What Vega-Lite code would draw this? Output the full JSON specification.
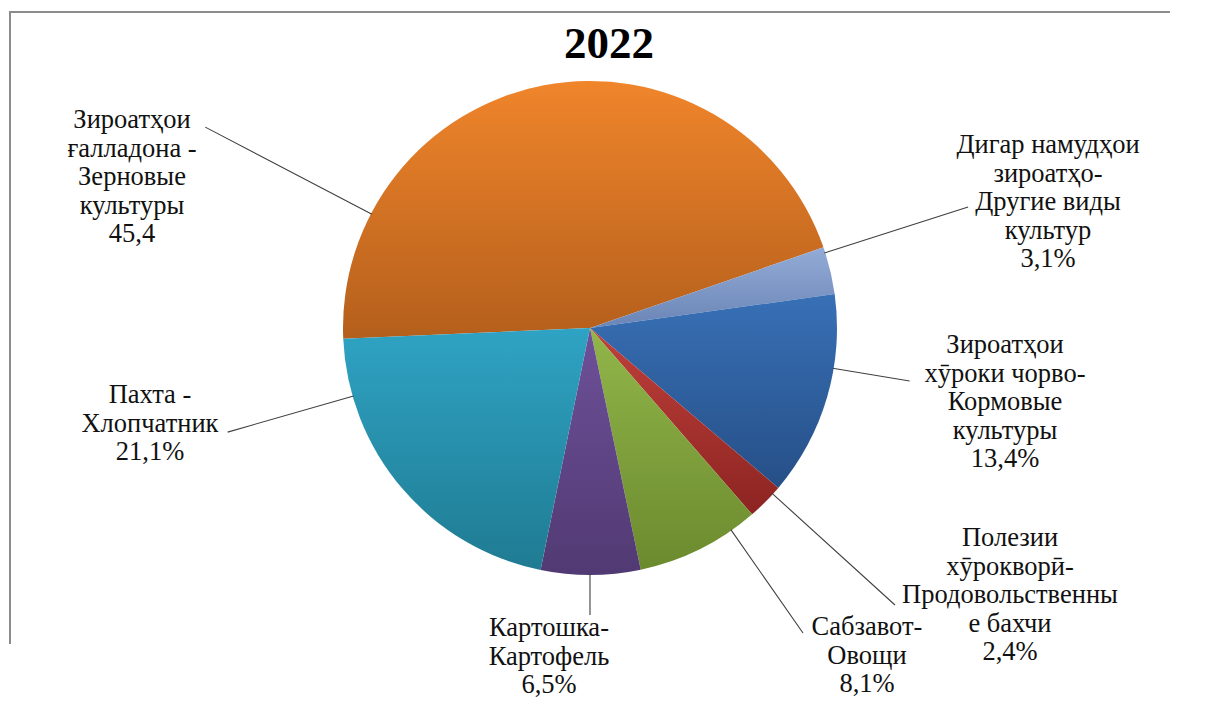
{
  "$schema": "https://vega.github.io/schema/vega-lite/v6.json",
  "width": 1160,
  "height": 632,
  "autosize": {"type": "none"},
  "padding": {"left": 10, "top": 12, "right": 38, "bottom": 58},
  "background": "white",
  "view": {"stroke": "#8c8c8c", "strokeWidth": 2, "strokeDash": [1160, 1792, 632]},
  "config": {
    "view": {"stroke": "#8c8c8c", "strokeWidth": 2, "strokeDash": [1160, 1792, 632]},
    "style": {"view": {"stroke": "#8c8c8c", "strokeWidth": 2, "strokeDash": [1160, 1792, 632]}}
  },
  "data": {"values": [
    {"idx": 1, "name": "Зерновые культуры", "value": 45.4, "label": "Зироатҳои\nғалладона -\nЗерновые\nкультуры\n45,4"},
    {"idx": 2, "name": "Другие виды культур", "value": 3.1, "label": "Дигар намудҳои\nзироатҳо-\nДругие виды\nкультур\n3,1%"},
    {"idx": 3, "name": "Кормовые культуры", "value": 13.4, "label": "Зироатҳои\nхӯроки чорво-\nКормовые\nкультуры\n13,4%"},
    {"idx": 4, "name": "Продовольственные бахчи", "value": 2.4, "label": "Полезии\nхӯрокворӣ-\nПродовольственны\nе бахчи\n2,4%"},
    {"idx": 5, "name": "Овощи", "value": 8.1, "label": "Сабзавот-\nОвощи\n8,1%"},
    {"idx": 6, "name": "Картофель", "value": 6.5, "label": "Картошка-\nКартофель\n6,5%"},
    {"idx": 7, "name": "Хлопчатник", "value": 21.1, "label": "Пахта -\nХлопчатник\n21,1%"}
  ]},
  "transform": [{"stack": "value", "groupby": [], "sort": [{"field": "idx", "order": "ascending"}], "as": ["v0", "v1"]}],
  "layer": [
    {
      "transform": [{"filter": "datum.idx === 1"}],
      "encoding": {"theta": {"field": "v0", "type": "quantitative", "stack": null, "scale": {"domain": [0, 100], "range": [4.66879, 10.95198]}}},
      "layer": [
        {"mark": {"type": "arc", "outerRadius": 247, "fill": {"gradient": "linear", "x1": 0, "y1": 0, "x2": 0, "y2": 1, "stops": [{"offset": 0, "color": "#F0852B"}, {"offset": 1, "color": "#B45F1C"}]}}, "encoding": {"theta2": {"field": "v1"}}},
        {"mark": {"type": "arc", "innerRadius": 246, "outerRadius": 434, "padAngle": 3.14, "thetaOffset": -0.9015, "theta2Offset": -0.9015, "fillOpacity": 0, "stroke": "#404040", "strokeWidth": 1.1}, "encoding": {"theta2": {"field": "v1"}}},
        {"mark": {"type": "text", "radius": 503.0, "thetaOffset": 0.4698, "font": "Liberation Serif", "fontSize": 26.5, "lineHeight": 28.5, "lineBreak": "\n", "align": "center", "baseline": "middle", "fill": "#111111"}, "encoding": {"text": {"field": "label", "type": "nominal"}}}
      ]
    },
    {
      "transform": [{"filter": "datum.idx === 2"}],
      "encoding": {"theta": {"field": "v0", "type": "quantitative", "stack": null, "scale": {"domain": [0, 100], "range": [4.66879, 10.95198]}}},
      "layer": [
        {"mark": {"type": "arc", "outerRadius": 247, "fill": {"gradient": "linear", "x1": 0, "y1": 0, "x2": 0, "y2": 1, "stops": [{"offset": 0, "color": "#93ABD6"}, {"offset": 1, "color": "#6A85B6"}]}}, "encoding": {"theta2": {"field": "v1"}}},
        {"mark": {"type": "arc", "innerRadius": 246, "outerRadius": 397, "padAngle": 3.14, "thetaOffset": -0.0745, "theta2Offset": -0.0745, "fillOpacity": 0, "stroke": "#404040", "strokeWidth": 1.1}, "encoding": {"theta2": {"field": "v1"}}},
        {"mark": {"type": "text", "radius": 493.2, "thetaOffset": -0.0475, "font": "Liberation Serif", "fontSize": 26.5, "lineHeight": 28.5, "lineBreak": "\n", "align": "center", "baseline": "middle", "fill": "#111111"}, "encoding": {"text": {"field": "label", "type": "nominal"}}}
      ]
    },
    {
      "transform": [{"filter": "datum.idx === 3"}],
      "encoding": {"theta": {"field": "v0", "type": "quantitative", "stack": null, "scale": {"domain": [0, 100], "range": [4.66879, 10.95198]}}},
      "layer": [
        {"mark": {"type": "arc", "outerRadius": 247, "fill": {"gradient": "linear", "x1": 0, "y1": 0, "x2": 0, "y2": 1, "stops": [{"offset": 0, "color": "#3870B6"}, {"offset": 1, "color": "#264F87"}]}}, "encoding": {"theta2": {"field": "v1"}}},
        {"mark": {"type": "arc", "innerRadius": 246, "outerRadius": 324, "padAngle": 3.14, "thetaOffset": -0.1190, "theta2Offset": -0.1190, "fillOpacity": 0, "stroke": "#404040", "strokeWidth": 1.1}, "encoding": {"theta2": {"field": "v1"}}},
        {"mark": {"type": "text", "radius": 415.35, "thetaOffset": 0.1789, "font": "Liberation Serif", "fontSize": 26.5, "lineHeight": 28.5, "lineBreak": "\n", "align": "center", "baseline": "middle", "fill": "#111111"}, "encoding": {"text": {"field": "label", "type": "nominal"}}}
      ]
    },
    {
      "transform": [{"filter": "datum.idx === 4"}],
      "encoding": {"theta": {"field": "v0", "type": "quantitative", "stack": null, "scale": {"domain": [0, 100], "range": [4.66879, 10.95198]}}},
      "layer": [
        {"mark": {"type": "arc", "outerRadius": 247, "fill": {"gradient": "linear", "x1": 0, "y1": 0, "x2": 0, "y2": 1, "stops": [{"offset": 0, "color": "#C0403B"}, {"offset": 1, "color": "#8C2421"}]}}, "encoding": {"theta2": {"field": "v1"}}},
        {"mark": {"type": "arc", "innerRadius": 246, "outerRadius": 412, "padAngle": 3.14, "thetaOffset": -0.0422, "theta2Offset": -0.0422, "fillOpacity": 0, "stroke": "#404040", "strokeWidth": 1.1}, "encoding": {"theta2": {"field": "v1"}}},
        {"mark": {"type": "text", "radius": 469.6, "thetaOffset": -0.2403, "font": "Liberation Serif", "fontSize": 26.5, "lineHeight": 28.5, "lineBreak": "\n", "align": "center", "baseline": "middle", "fill": "#111111"}, "encoding": {"text": {"field": "label", "type": "nominal"}}}
      ]
    },
    {
      "transform": [{"filter": "datum.idx === 5"}],
      "encoding": {"theta": {"field": "v0", "type": "quantitative", "stack": null, "scale": {"domain": [0, 100], "range": [4.66879, 10.95198]}}},
      "layer": [
        {"mark": {"type": "arc", "outerRadius": 247, "fill": {"gradient": "linear", "x1": 0, "y1": 0, "x2": 0, "y2": 1, "stops": [{"offset": 0, "color": "#92B64A"}, {"offset": 1, "color": "#6B8A2E"}]}}, "encoding": {"theta2": {"field": "v1"}}},
        {"mark": {"type": "arc", "innerRadius": 246, "outerRadius": 372, "padAngle": 3.14, "thetaOffset": -0.1482, "theta2Offset": -0.1482, "fillOpacity": 0, "stroke": "#404040", "strokeWidth": 1.1}, "encoding": {"theta2": {"field": "v1"}}},
        {"mark": {"type": "text", "radius": 407.6, "thetaOffset": -0.0312, "font": "Liberation Serif", "fontSize": 26.5, "lineHeight": 28.5, "lineBreak": "\n", "align": "center", "baseline": "middle", "fill": "#111111"}, "encoding": {"text": {"field": "label", "type": "nominal"}}}
      ]
    },
    {
      "transform": [{"filter": "datum.idx === 6"}],
      "encoding": {"theta": {"field": "v0", "type": "quantitative", "stack": null, "scale": {"domain": [0, 100], "range": [4.66879, 10.95198]}}},
      "layer": [
        {"mark": {"type": "arc", "outerRadius": 247, "fill": {"gradient": "linear", "x1": 0, "y1": 0, "x2": 0, "y2": 1, "stops": [{"offset": 0, "color": "#6E5099"}, {"offset": 1, "color": "#513A73"}]}}, "encoding": {"theta2": {"field": "v1"}}},
        {"mark": {"type": "arc", "innerRadius": 246, "outerRadius": 287, "padAngle": 3.14, "thetaOffset": 0.0028, "theta2Offset": 0.0028, "fillOpacity": 0, "stroke": "#404040", "strokeWidth": 1.1}, "encoding": {"theta2": {"field": "v1"}}},
        {"mark": {"type": "text", "radius": 302.8, "thetaOffset": 0.3428, "font": "Liberation Serif", "fontSize": 26.5, "lineHeight": 28.5, "lineBreak": "\n", "align": "center", "baseline": "middle", "fill": "#111111"}, "encoding": {"text": {"field": "label", "type": "nominal"}}}
      ]
    },
    {
      "transform": [{"filter": "datum.idx === 7"}],
      "encoding": {"theta": {"field": "v0", "type": "quantitative", "stack": null, "scale": {"domain": [0, 100], "range": [4.66879, 10.95198]}}},
      "layer": [
        {"mark": {"type": "arc", "outerRadius": 247, "fill": {"gradient": "linear", "x1": 0, "y1": 0, "x2": 0, "y2": 1, "stops": [{"offset": 0, "color": "#2FA3C4"}, {"offset": 1, "color": "#1F7B92"}]}}, "encoding": {"theta2": {"field": "v1"}}},
        {"mark": {"type": "arc", "innerRadius": 246, "outerRadius": 377, "padAngle": 3.14, "thetaOffset": 0.4267, "theta2Offset": 0.4267, "fillOpacity": 0, "stroke": "#404040", "strokeWidth": 1.1}, "encoding": {"theta2": {"field": "v1"}}},
        {"mark": {"type": "text", "radius": 445.1, "thetaOffset": 1.2182, "font": "Liberation Serif", "fontSize": 26.5, "lineHeight": 28.5, "lineBreak": "\n", "align": "center", "baseline": "middle", "fill": "#111111"}, "encoding": {"text": {"field": "label", "type": "nominal"}}}
      ]
    },
    {
      "data": {"values": [{"year": "2022"}]},
      "mark": {"type": "text", "font": "Liberation Serif", "fontSize": 45, "fontWeight": "bold", "fill": "#000000", "align": "center", "baseline": "alphabetic", "dx": 19, "dy": -270},
      "encoding": {"text": {"field": "year", "type": "nominal"}}
    }
  ]
}
